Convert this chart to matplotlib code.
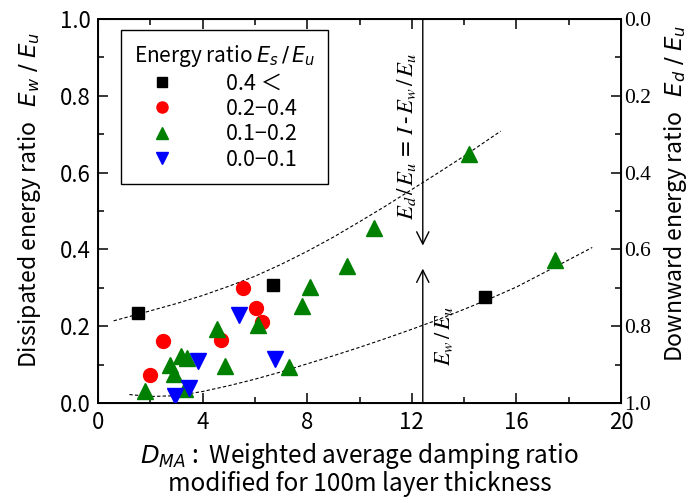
import matplotlib
matplotlib.use("Agg")
import matplotlib.pyplot as plt
from matplotlib.ticker import MultipleLocator, FormatStrFormatter

plt.rcParams['font.family'] = ['Noto Sans CJK JP', 'DejaVu Sans']
plt.rcParams['mathtext.fontset'] = 'dejavusans'

# ---- data ----
sq_x = [1.53, 6.71, 14.81]
sq_y = [0.234, 0.306, 0.275]

ci_x = [5.56, 6.04, 6.26, 2.49, 4.71, 1.97]
ci_y = [0.299, 0.248, 0.211, 0.161, 0.165, 0.074]

up_x = [14.19, 10.57, 9.51, 17.49, 8.10, 7.82, 6.10, 4.56, 4.84, 7.30,
        3.16, 3.42, 2.74, 2.89, 1.78, 3.33]
up_y = [0.648, 0.455, 0.356, 0.373, 0.302, 0.252, 0.204, 0.193, 0.097, 0.095,
        0.123, 0.117, 0.098, 0.076, 0.032, 0.036]

dn_x = [5.39, 3.83, 6.75, 3.48, 2.95]
dn_y = [0.230, 0.110, 0.115, 0.039, 0.019]

upper_curve_x = [0.6, 2, 3, 4, 5, 6, 7, 8, 9, 10, 11, 12, 13, 14, 15.4]
upper_curve_y = [0.214, 0.240, 0.259, 0.280, 0.304, 0.330, 0.361, 0.395, 0.432, 0.472,
                 0.513, 0.556, 0.599, 0.643, 0.708]

lower_curve_x = [1.2, 2, 3, 4, 5, 6, 7, 8, 9, 10, 11, 12, 13, 14, 15, 16, 17.5, 18.9]
lower_curve_y = [0.022, 0.017, 0.019, 0.030, 0.045, 0.062, 0.081, 0.102, 0.123, 0.145,
                 0.168, 0.192, 0.217, 0.244, 0.272, 0.302, 0.355, 0.405]

legend_labels = ['0.4 ＜', '0.2\u22120.4', '0.1\u22120.2', '0.0\u22120.1']
arrow_x = 12.42

fig = plt.figure(figsize=(6.94, 5.03), dpi=100)
ax = fig.add_axes([98/694, 1-403/503, (621-98)/694, (403-19)/503])

ax.plot(upper_curve_x, upper_curve_y, ls=(0, (3, 2)), color='black', lw=0.8, zorder=2)
ax.plot(lower_curve_x, lower_curve_y, ls=(0, (3, 2)), color='black', lw=0.8, zorder=2)

h1, = ax.plot(sq_x, sq_y, 's', color='black', ms=9, ls='none', zorder=3)
h2, = ax.plot(ci_x, ci_y, 'o', color='red', ms=10, ls='none', zorder=3)
h3, = ax.plot(up_x, up_y, '^', color='green', ms=11.5, ls='none', zorder=3)
h4, = ax.plot(dn_x, dn_y, 'v', color='blue', ms=11.5, ls='none', zorder=3)

# arrows
ax.annotate('', xy=(arrow_x, 0.41), xytext=(arrow_x, 1.0),
            arrowprops=dict(arrowstyle='->', lw=1.0, color='black', mutation_scale=22,
                            shrinkA=0, shrinkB=0))
ax.annotate('', xy=(arrow_x, 0.35), xytext=(arrow_x, 0.0),
            arrowprops=dict(arrowstyle='->', lw=1.0, color='black', mutation_scale=22,
                            shrinkA=0, shrinkB=0))

ax.text(11.8, 0.695, r'$E_d\,/\,E_u\,=\,I\,\text{-}\,E_w\,/\,E_u$', rotation=90,
        ha='center', va='center', fontsize=16.5, math_fontfamily='stix')
ax.text(13.2, 0.175, r'$E_w\,/\,E_u$', rotation=90,
        ha='center', va='center', fontsize=16, math_fontfamily='stix')

ax.set_xlim(0, 20)
ax.set_ylim(0, 1)
ax.xaxis.set_major_locator(MultipleLocator(4))
ax.xaxis.set_minor_locator(MultipleLocator(2))
ax.yaxis.set_major_locator(MultipleLocator(0.2))
ax.yaxis.set_minor_locator(MultipleLocator(0.1))
ax.yaxis.set_major_formatter(FormatStrFormatter('%.1f'))
ax.tick_params(which='both', direction='in', top=True, right=False, labelsize=16)
ax.tick_params(axis='x', which='both', pad=6)
ax.tick_params(axis='y', which='both', pad=5)
ax.tick_params(which='major', length=7, width=1.1)
ax.tick_params(which='minor', length=4, width=1.1)
for s in ax.spines.values():
    s.set_linewidth(1.4)

ax2 = ax.twinx()
ax2.set_ylim(1, 0)
ax2.yaxis.set_major_locator(MultipleLocator(0.2))
ax2.yaxis.set_minor_locator(MultipleLocator(0.1))
ax2.yaxis.set_major_formatter(FormatStrFormatter('%.1f'))
ax2.tick_params(which='both', direction='in', labelsize=15.5, pad=2)
ax2.tick_params(which='major', length=7, width=1.1)
ax2.tick_params(which='minor', length=4, width=1.1)
for lab in ax2.get_yticklabels():
    lab.set_fontfamily('Liberation Serif')

ax.set_xlabel('$D_{MA}$ :  Weighted average damping ratio\nmodified for 100m layer thickness',
              fontsize=17.5, labelpad=5, linespacing=1.0)
ax.set_ylabel(r'Dissipated energy ratio   $E_w\;/\;E_u$', fontsize=16.5)
ax.yaxis.set_label_coords(-0.106, 0.53)
ax2.set_ylabel(r'Downward energy ratio   $E_d\;/\;E_u$', fontsize=16.5)
ax2.yaxis.set_label_coords(1.078, 0.545)

leg = ax.legend([h1, h2, h3, h4], legend_labels, loc='upper left',
                bbox_to_anchor=(0.0434, 0.971), borderaxespad=0,
                title=r'Energy ratio $E_s\,/\,E_u$',
                prop={'size': 15.5}, title_fontsize=15, frameon=True, fancybox=False,
                edgecolor='black', framealpha=1, handlelength=1.0, handletextpad=2.5,
                labelspacing=0.16, borderpad=0.6, markerscale=0.8)
leg.get_frame().set_linewidth(1.0)

fig.savefig('out.png', dpi=100)
